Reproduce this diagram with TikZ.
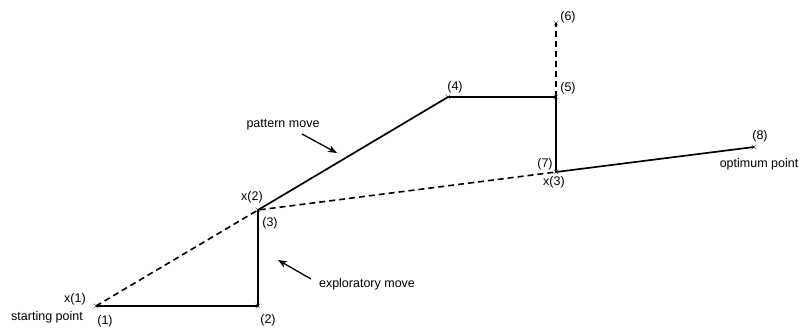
\documentclass[tikz,border=0pt]{standalone}
\usepackage{fontspec}
\setmainfont{Liberation Sans}
\usetikzlibrary{positioning, arrows.meta, shapes.misc}

\begin{document}
\begin{tikzpicture}[
  x=1pt, y=-1pt,
  pt/.style={cross out, draw=black!60, line width=0.6pt, minimum size=4pt, inner sep=0pt},
  lbl/.style={inner sep=0pt, font=\fontsize{12.5}{14}\selectfont},
  move/.style={line width=1.7pt},
  trial/.style={line width=1.6pt, dash pattern=on 6pt off 4pt},
  note/.style={-{Stealth[length=9pt, width=7pt]}, line width=1.3pt}
]
\useasboundingbox (0,0) rectangle (804,327);
% base points
\node[pt] (p1) at (96,306) {};
\node[pt] (p2) at (258,306) {};
\node[pt] (p3) at (258,210) {};
\node[pt] (p4) at (448,97) {};
\node[pt] (p5) at (556,97) {};
\node[pt] (p6) at (556,23) {};
\node[pt] (p7) at (556,172) {};
\node[pt] (p8) at (754,147) {};
% moves
\draw[move] (p1.center) -- (p2.center) -- (p3.center) -- (p4.center) -- (p5.center) -- (p7.center) -- (p8.center);
\draw[trial] (p1.center) -- (p3.center) -- (p7.center);
\draw[trial] (p5.center) -- (p6.center);
% labels
\node[lbl] (l1) at (105,321) {(1)};
\node[lbl] (x1) at (75,299) {x(1)};
\node[lbl] (start) at (47,317) {starting point};
\node[lbl] (l2) at (268,320) {(2)};
\node[lbl] (x2) at (252,197) {x(2)};
\node[lbl] (l3) at (270,223) {(3)};
\node[lbl] (l4) at (455,87) {(4)};
\node[lbl] (l5) at (568,88) {(5)};
\node[lbl] (l6) at (568,17) {(6)};
\node[lbl] (l7) at (545,164) {(7)};
\node[lbl] (x3) at (554,182) {x(3)};
\node[lbl] (l8) at (760,136) {(8)};
\node[lbl] (opt) at (759,164) {optimum point};
\node[lbl] (pat) at (283,125) {pattern move};
\node[lbl] (expl) at (367,284) {exploratory move};
% pointers
\coordinate (pattip) at (337,153);
\coordinate (patend) at (302,134);
\coordinate (expltip) at (278,260);
\coordinate (explend) at (311,279);
\draw[note] (patend) -- (pattip);
\draw[note] (explend) -- (expltip);
\end{tikzpicture}
\end{document}
